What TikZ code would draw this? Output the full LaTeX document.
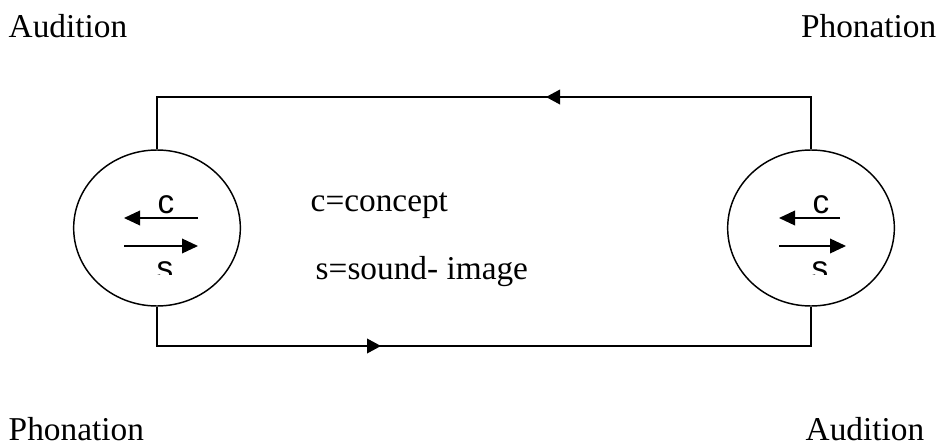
\documentclass[tikz,border=0pt]{standalone}
\usepackage{fontspec}
\setmainfont{Liberation Serif}
\newfontfamily\sansf{Liberation Sans}
\usetikzlibrary{shapes.geometric,arrows.meta}
\begin{document}
\begin{tikzpicture}[x=0.75pt,y=-0.75pt,
  line width=1.1pt,
  lbl/.style={inner sep=0pt,font=\fontsize{25}{30}\selectfont},
  letter/.style={inner sep=0pt,font=\sansf\fontsize{25}{30}\selectfont},
  mind/.style={draw,ellipse,inner sep=0pt,minimum width=125pt,minimum height=117pt},
  bigtip/.style={-{Triangle[length=10.5pt,width=11pt]}},
  smalltip/.style={-{Triangle[length=12pt,width=11pt]}}]
\useasboundingbox (0,0) rectangle (942,446);

% labels
\node[lbl,anchor=base west] (a1) at (8,37) {Audition};
\node[lbl,anchor=base east] (p1) at (937,37) {Phonation};
\node[lbl,anchor=base west] (p2) at (8,440) {Phonation};
\node[lbl,anchor=base west] (a2) at (805,440) {Audition};
\node[lbl,anchor=base west] (cc) at (310,211) {c=concept};
\node[lbl,anchor=base west] (ss) at (315,279) {s=sound- image};

% circles
\node[mind] (L) at (157,228) {};
\node[mind] (R) at (811,228) {};

% circuit
\coordinate (tl) at (157,97);
\coordinate (tr) at (811,97);
\coordinate (bl) at (157,346);
\coordinate (br) at (811,346);
\draw (L.north) -- (tl) -- (tr) -- (R.north);
\draw (L.south) -- (bl) -- (br) -- (R.south);
\coordinate (ta) at (562,97);
\coordinate (tb) at (546,97);
\draw[bigtip] (ta) -- (tb);
\coordinate (ba) at (365,346);
\coordinate (bb) at (381,346);
\draw[bigtip] (ba) -- (bb);

% inner arrows, left
\coordinate (l1a) at (198,218);
\coordinate (l1b) at (124,218);
\coordinate (l2a) at (124,246);
\coordinate (l2b) at (198,246);
\draw[smalltip] (l1a) -- (l1b);
\draw[smalltip] (l2a) -- (l2b);
\node[letter,anchor=base] (lc) at (166,213) {c};
\begin{scope}
\clip (140,255) rectangle (195,274);
\node[letter,anchor=base] (ls) at (165,279) {s};
\end{scope}

% inner arrows, right
\coordinate (r1a) at (840,218);
\coordinate (r1b) at (779,218);
\coordinate (r2a) at (779,246);
\coordinate (r2b) at (846,246);
\draw[smalltip] (r1a) -- (r1b);
\draw[smalltip] (r2a) -- (r2b);
\node[letter,anchor=base] (rc) at (821,213) {c};
\begin{scope}
\clip (795,255) rectangle (850,274);
\node[letter,anchor=base] (rs) at (820,279) {s};
\end{scope}
\end{tikzpicture}
\end{document}
